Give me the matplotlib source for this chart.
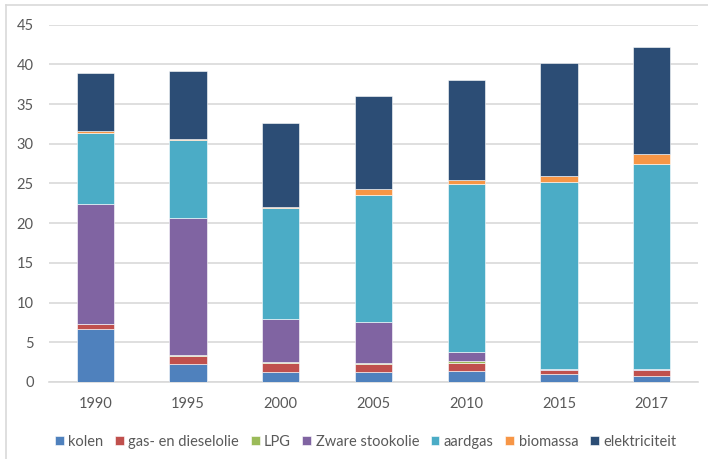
import matplotlib.pyplot as plt
import numpy as np
from matplotlib.lines import Line2D

YEARS = ['1990', '1995', '2000', '2005', '2010', '2015', '2017']

SERIES_NAMES = ['kolen', 'gas- en dieselolie', 'LPG', 'Zware stookolie',
                'aardgas', 'biomassa', 'elektriciteit']

kolen = [6.7, 2.2, 1.3, 1.3, 1.4, 1.0, 0.8]
gas_diesel = [0.6, 1.1, 1.1, 0.9, 1.0, 0.5, 0.7]
lpg = [0.05, 0.05, 0.15, 0.2, 0.2, 0.05, 0.05]
zware_stookolie = [15.1, 17.3, 5.4, 5.2, 1.2, 0.1, 0.05]
aardgas = [8.9, 9.8, 14.0, 15.9, 21.1, 23.5, 25.9]
biomassa = [0.3, 0.1, 0.05, 0.8, 0.6, 0.8, 1.2]
elektriciteit = [7.3, 8.6, 10.6, 11.7, 12.5, 14.2, 13.5]

COLORS = ['#4F81BD', '#C0504D', '#9BBB59', '#8064A2',
          '#4BACC6', '#F79646', '#2C4D75']

TEXT_COLOR = '#595959'

plt.rcParams['font.family'] = ['Lato', 'DejaVu Sans']

fig = plt.figure(figsize=(7.08, 4.59), dpi=100)
ax = fig.add_axes([0.069, 0.168, 0.917, 0.778])

values = [kolen, gas_diesel, lpg, zware_stookolie, aardgas, biomassa, elektriciteit]
x = np.arange(len(YEARS))
bottom = np.zeros(len(YEARS))
for name, vals, color in zip(SERIES_NAMES, values, COLORS):
    ax.bar(x, vals, width=0.4, bottom=bottom, color=color, label=name,
           edgecolor='white', linewidth=0.4, zorder=3)
    bottom += np.array(vals)

ax.set_xlim(-0.5, len(YEARS) - 0.5)
ax.set_ylim(0, 45)
ax.set_yticks(range(0, 46, 5))
ax.set_xticks(x)
ax.set_xticklabels(YEARS)
ax.yaxis.grid(True, color='#D9D9D9', linewidth=1.2, zorder=0)
for side in ['top', 'right', 'left']:
    ax.spines[side].set_visible(False)
ax.spines['bottom'].set_color('#D9D9D9')
ax.spines['bottom'].set_linewidth(1.2)
ax.tick_params(axis='both', length=0, colors=TEXT_COLOR, labelsize=10.5)
ax.tick_params(axis='y', pad=11)
ax.tick_params(axis='x', pad=11)

ax.legend(loc='upper center', bbox_to_anchor=(0.488, -0.112), ncol=7,
          frameon=False, fontsize=10.5, labelcolor=TEXT_COLOR,
          handlelength=0.6, handleheight=0.6, handletextpad=0.3,
          columnspacing=0.8)

# light chart-area border (top and left visible in the reference)
fig.add_artist(Line2D([0.009, 1.0], [0.989, 0.989], color='#D9D9D9', linewidth=1.2,
                      transform=fig.transFigure))
fig.add_artist(Line2D([0.009, 0.009], [0.0, 0.989], color='#D9D9D9', linewidth=1.2,
                      transform=fig.transFigure))

fig.savefig('out.png', dpi=100)
